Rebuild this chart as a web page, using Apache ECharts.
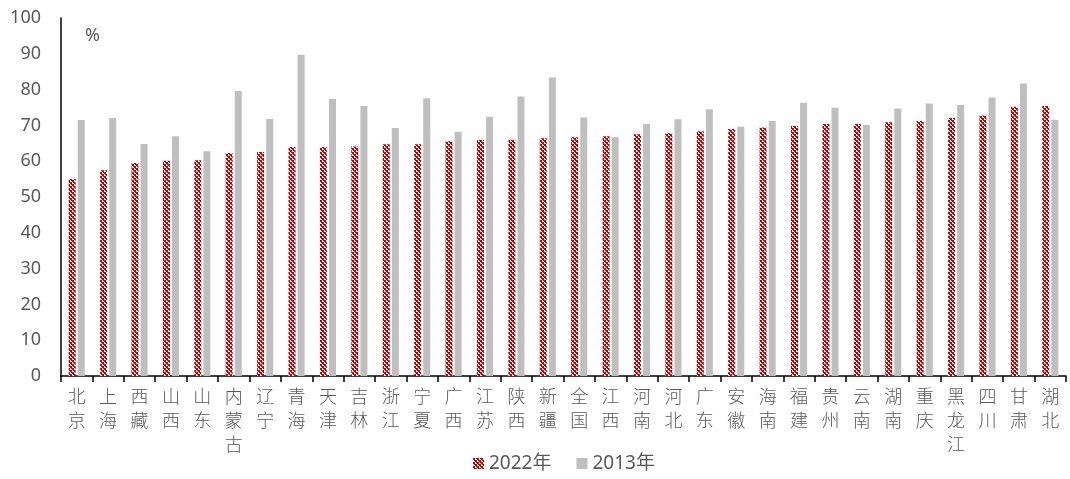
<!DOCTYPE html>
<html><head><meta charset="utf-8">
<script src="https://cdn.jsdelivr.net/npm/echarts@6/dist/echarts.min.js"></script>
<style>html,body{margin:0;padding:0;background:#fff}#c{width:1070px;height:479px}</style>
</head><body><div id="c"></div>
<script>
const categories = ['北京','上海','西藏','山西','山东','内蒙古','辽宁','青海','天津','吉林','浙江','宁夏','广西','江苏','陕西','新疆','全国','江西','河南','河北','广东','安徽','海南','福建','贵州','云南','湖南','重庆','黑龙江','四川','甘肃','湖北'];
const values2022 = [55.0,57.5,59.5,60.1,60.3,62.3,62.6,64.0,64.0,64.1,64.7,64.7,65.6,65.9,66.0,66.4,66.7,67.0,67.5,67.8,68.4,69.0,69.4,69.8,70.4,70.4,70.9,71.2,72.1,72.8,75.2,75.4];
const values2013 = [71.5,72.1,64.8,67.0,62.8,79.6,71.8,89.7,77.4,75.4,69.3,77.6,68.2,72.4,78.1,83.4,72.2,66.7,70.4,71.7,74.5,69.6,71.2,76.3,74.9,70.1,74.7,76.1,75.7,77.8,81.7,71.5];
const seriesNames = ['2022年','2013年'];
const yTicks = {min:0, max:100, interval:10};

const tile = document.createElement('canvas');
tile.width = 4; tile.height = 4;
const tc = tile.getContext('2d');
tc.fillStyle = '#ffffff'; tc.fillRect(0,0,4,4);
tc.fillStyle = '#C00000';
tc.fillRect(0,0,2,2); tc.fillRect(2,2,2,2);
tc.fillRect(1,2,1,1); tc.fillRect(3,0,1,1);
const pattern = {image: tile, repeat: 'repeat'};

const chart = echarts.init(document.getElementById('c'));
const font = '"Noto Sans","Noto Sans CJK SC",sans-serif';
chart.setOption({
  animation: false,
  grid: {left: 61, right: 4, top: 18, bottom: 103},
  legend: {
    bottom: 1, left: 468, itemWidth: 11, itemHeight: 11, itemGap: 25,
    textStyle: {color: '#595959', fontSize: 19, fontFamily: font},
    data: [{name: seriesNames[0], icon: 'rect'}, {name: seriesNames[1], icon: 'rect'}]
  },
  graphic: [{type: 'text', left: 85, top: 27, style: {text: '%', fill: '#595959', font: '18px ' + font}}],
  xAxis: {
    type: 'category', data: categories,
    axisLine: {lineStyle: {color: '#000', width: 1.5}},
    axisTick: {show: true, alignWithLabel: false, length: 6, lineStyle: {color: '#000', width: 1.5}},
    axisLabel: {interval: 0, color: '#595959', fontSize: 18, fontFamily: '"Noto Sans CJK SC",sans-serif', fontWeight: 300, lineHeight: 24, margin: 8,
      formatter: v => v.split('').join('\n')}
  },
  yAxis: {
    type: 'value', min: yTicks.min, max: yTicks.max, interval: yTicks.interval,
    splitLine: {show: false},
    axisLine: {show: true, lineStyle: {color: '#000', width: 1.5}},
    axisTick: {show: false},
    axisLabel: {color: '#595959', fontSize: 18, fontFamily: font, margin: 20}
  },
  series: [
    {name: seriesNames[0], type: 'bar', data: values2022, barWidth: 7, barGap: '30%',
      itemStyle: {color: pattern}},
    {name: seriesNames[1], type: 'bar', data: values2013, barWidth: 7,
      itemStyle: {color: '#BFBFBF'}}
  ]
});
</script></body></html>
